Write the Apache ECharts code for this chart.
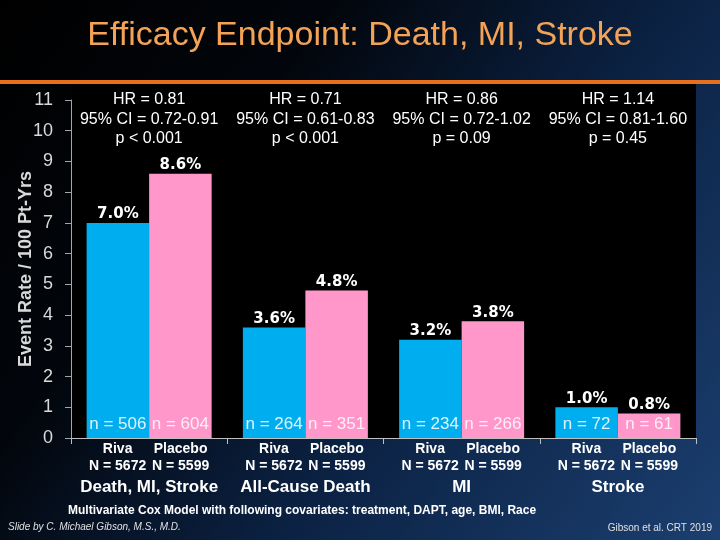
<!DOCTYPE html>
<html>
<head>
<meta charset="utf-8">
<script src="https://cdn.jsdelivr.net/npm/echarts@6/dist/echarts.min.js"></script>
<style>html,body{margin:0;padding:0;background:#000}#c{width:720px;height:540px}</style>
</head>
<body>
<div id="c"></div>
<script>
const categories = ['Death, MI, Stroke', 'All-Cause Death', 'MI', 'Stroke'];
const rivaRate = [7.0, 3.6, 3.2, 1.0];
const placeboRate = [8.6, 4.8, 3.8, 0.8];
const rivaEvents = [506, 264, 234, 72];
const placeboEvents = [604, 351, 266, 61];
const rivaN = [5672, 5672, 5672, 5672];
const placeboN = [5599, 5599, 5599, 5599];
const hrValues = ['0.81', '0.71', '0.86', '1.14'];
const ciValues = ['0.72-0.91', '0.61-0.83', '0.72-1.02', '0.81-1.60'];
const pValues = ['p < 0.001', 'p < 0.001', 'p = 0.09', 'p = 0.45'];
const yTicks = [0, 1, 2, 3, 4, 5, 6, 7, 8, 9, 10, 11];

const FONT = 'Liberation Sans, Arial, sans-serif';
const chart = echarts.init(document.getElementById('c'), null, {renderer: 'canvas'});

const option = {
  animation: false,
  backgroundColor: {
    type: 'linear', x: 0, y: 0, x2: 1, y2: 1,
    colorStops: [
      {offset: 0, color: '#000000'},
      {offset: 0.3, color: '#02060c'},
      {offset: 0.6, color: '#0b2142'},
      {offset: 1, color: '#1b3f70'}
    ]
  },
  textStyle: {fontFamily: FONT},
  title: [
    {text: 'Efficacy Endpoint: Death, MI, Stroke', left: 'center', top: 19, padding: 0,
     textStyle: {color: '#F4A356', fontSize: 34, fontWeight: 'normal', fontFamily: FONT}},
    {text: 'Multivariate Cox Model with following covariates: treatment, DAPT, age, BMI, Race',
     left: 68, top: 505, padding: 0,
     textStyle: {color: '#ffffff', fontSize: 12, fontWeight: 'bold', fontFamily: FONT}},
    {text: 'Slide by C. Michael Gibson, M.S., M.D.', left: 8, top: 522, padding: 0,
     textStyle: {color: '#e0e0e0', fontSize: 10, fontStyle: 'italic', fontWeight: 'normal', fontFamily: FONT}},
    {text: 'Gibson et al. CRT 2019', right: 8, top: 523, padding: 0,
     textStyle: {color: '#e0e0e0', fontSize: 10, fontWeight: 'normal', fontFamily: FONT}}
  ],
  graphic: [
    {type: 'rect', left: 0, top: 80, shape: {width: 720, height: 4}, style: {fill: '#E8701C'}, z: 10}
  ],
  grid: [
    {left: 71, right: 24, top: 100, bottom: 102, outerBoundsMode: 'none', containLabel: false},
    {left: 72, right: 24, top: 84, bottom: 102, show: true, backgroundColor: '#000000', borderWidth: 0, z: 0}
  ],
  xAxis: [
    {
      type: 'category', gridIndex: 0, data: categories, position: 'bottom',
      axisLine: {show: true, lineStyle: {color: '#bfbfbf', width: 1}},
      axisTick: {show: true, length: 6, lineStyle: {color: '#bfbfbf'}},
      axisLabel: {
        interval: 0, margin: 3,
        formatter: function (value, idx) {
          return '{r|Riva}{p|Placebo}\n{nr|N = ' + rivaN[idx] + '}{np|N = ' + placeboN[idx] + '}\n{c|' + value + '}';
        },
        rich: {
          r: {width: 63, align: 'center', fontSize: 14, fontWeight: 'bold', color: '#fff', lineHeight: 17, fontFamily: FONT},
          p: {width: 63, align: 'center', fontSize: 14, fontWeight: 'bold', color: '#fff', lineHeight: 17, fontFamily: FONT},
          nr: {width: 63, align: 'center', fontSize: 14, fontWeight: 'bold', color: '#fff', lineHeight: 17, fontFamily: FONT},
          np: {width: 63, align: 'center', fontSize: 14, fontWeight: 'bold', color: '#fff', lineHeight: 17, fontFamily: FONT},
          c: {align: 'center', fontSize: 17, fontWeight: 'bold', color: '#fff', lineHeight: 24, fontFamily: FONT}
        }
      }
    },
    {
      type: 'category', gridIndex: 0, data: categories, position: 'top',
      axisLine: {show: false}, axisTick: {show: false},
      axisLabel: {
        inside: true, interval: 0, margin: -10,
        color: '#ffffff', fontSize: 16, lineHeight: 19.5, fontFamily: FONT, align: 'center',
        formatter: function (value, idx) {
          return 'HR = ' + hrValues[idx] + '\n95% CI = ' + ciValues[idx] + '\n' + pValues[idx];
        }
      }
    }
  ],
  yAxis: [{
    type: 'value', gridIndex: 0, min: 0, max: 11, interval: 1,
    name: 'Event Rate / 100 Pt-Yrs', nameLocation: 'middle', nameGap: 36, nameMoveOverlap: false,
    nameTextStyle: {color: '#d9d9d9', fontSize: 18, fontWeight: 'bold', fontFamily: FONT},
    axisLine: {show: true, lineStyle: {color: '#a6a6a6'}},
    axisTick: {show: true, length: 6, lineStyle: {color: '#a6a6a6'}, customValues: yTicks},
    axisLabel: {color: '#d9d9d9', fontSize: 18, margin: 18, fontFamily: FONT, customValues: yTicks},
    splitLine: {show: false}
  }],
  series: [
    {
      name: 'Riva', type: 'bar', xAxisIndex: 0, yAxisIndex: 0, data: rivaRate,
      barGap: '0%', barCategoryGap: '20%', z: 2,
      itemStyle: {color: '#00AEEF'},
      label: {show: true, position: 'top', distance: 1, color: '#fff', fontSize: 15, fontWeight: 'bold', fontFamily: 'DejaVu Sans, ' + FONT,
        formatter: function (p) { return p.value.toFixed(1) + '%'; }}
    },
    {
      name: 'Placebo', type: 'bar', xAxisIndex: 0, yAxisIndex: 0, data: placeboRate,
      barGap: '0%', barCategoryGap: '20%', z: 2,
      itemStyle: {color: '#FF97CB'},
      label: {show: true, position: 'top', distance: 1, color: '#fff', fontSize: 15, fontWeight: 'bold', fontFamily: 'DejaVu Sans, ' + FONT,
        formatter: function (p) { return p.value.toFixed(1) + '%'; }}
    },
    {
      name: 'Riva events', type: 'bar', xAxisIndex: 1, yAxisIndex: 0, data: rivaRate,
      barGap: '0%', barCategoryGap: '20%', silent: true, z: 5,
      itemStyle: {color: 'rgba(0,0,0,0)'},
      label: {show: true, position: 'insideBottom', distance: 5, color: 'rgba(240,250,255,0.92)', fontSize: 17, fontFamily: FONT,
        formatter: function (p) { return 'n = ' + rivaEvents[p.dataIndex]; }}
    },
    {
      name: 'Placebo events', type: 'bar', xAxisIndex: 1, yAxisIndex: 0, data: placeboRate,
      barGap: '0%', barCategoryGap: '20%', silent: true, z: 5,
      itemStyle: {color: 'rgba(0,0,0,0)'},
      label: {show: true, position: 'insideBottom', distance: 5, color: 'rgba(255,245,250,0.92)', fontSize: 17, fontFamily: FONT,
        formatter: function (p) { return 'n = ' + placeboEvents[p.dataIndex]; }}
    }
  ]
};
chart.setOption(option);
</script>
</body>
</html>
